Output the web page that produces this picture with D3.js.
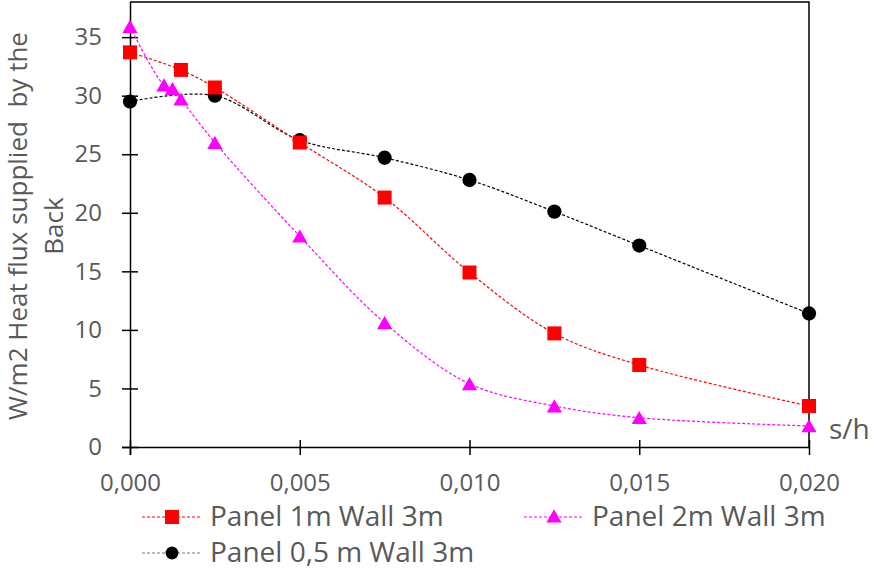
<!DOCTYPE html>
<html>
<head>
<meta charset="utf-8">
<script src="https://cdn.jsdelivr.net/npm/d3@7"></script>
<style>
  body { margin: 0; background: #fff; }
  text { font-family: "Open Sans", "Noto Sans", sans-serif; fill: #595959; }
</style>
</head>
<body>
<div id="chart"></div>
<script>
// s/h values and heat flux series
const xRed = [0, 0.0015, 0.0025, 0.005, 0.0075, 0.010, 0.0125, 0.015, 0.020];
const yRed = [33.7, 32.2, 30.7, 26.0, 21.3, 14.9, 9.7, 7.0, 3.5];

const xMag = [0, 0.001, 0.00125, 0.0015, 0.0025, 0.005, 0.0075, 0.010, 0.0125, 0.015, 0.020];
const yMag = [35.9, 30.9, 30.6, 29.7, 26.0, 18.0, 10.6, 5.4, 3.5, 2.5, 1.8];

const xBlk = [0, 0.0025, 0.005, 0.0075, 0.010, 0.0125, 0.015, 0.020];
const yBlk = [29.5, 30.0, 26.2, 24.7, 22.8, 20.1, 17.2, 11.4];

const xTicks = [0, 0.005, 0.010, 0.015, 0.020];
const yTicks = [0, 5, 10, 15, 20, 25, 30, 35];

const seriesNames = ["Panel 1m Wall 3m", "Panel 2m Wall 3m", "Panel 0,5 m Wall 3m"];

const width = 874, height = 573;
const plotL = 130, plotR = 809, plotT = 2, plotB = 447;

const svg = d3.select("#chart").append("svg")
  .attr("width", width)
  .attr("height", height);

const x = d3.scaleLinear().domain([0, 0.020]).range([plotL, plotR]);
const y = d3.scaleLinear().domain([0, 38]).range([plotB, plotT]);

const fmt = d => d3.format(".3f")(d).replace(".", ",");

// plot frame (top and right edges)
svg.append("path")
  .attr("d", `M${plotL},${plotT}H${plotR}V${plotB}`)
  .attr("fill", "none")
  .attr("stroke", "#000")
  .attr("stroke-width", 1.5);

// x axis
const xAxis = svg.append("g")
  .attr("transform", `translate(0,${plotB})`)
  .call(d3.axisBottom(x).tickValues(xTicks).tickFormat(fmt).tickSizeInner(8).tickSizeOuter(0).tickPadding(19));
xAxis.select(".domain").attr("d", `M${plotL - 8},0.5H${plotR}`).attr("stroke-width", 1.5);
xAxis.selectAll(".tick line").attr("y1", -7).attr("y2", 8).attr("stroke-width", 1.5);
xAxis.selectAll(".tick text").attr("font-size", 24).style("font-family", "Open Sans").attr("fill", "#595959");

// y axis
const yAxis = svg.append("g")
  .attr("transform", `translate(${plotL},0)`)
  .call(d3.axisLeft(y).tickValues(yTicks).tickSizeInner(8).tickSizeOuter(0).tickPadding(20));
yAxis.select(".domain").attr("d", `M0.5,${plotT}V${plotB + 8}`).attr("stroke-width", 1.5);
yAxis.selectAll(".tick line").attr("x1", -8).attr("x2", 8).attr("stroke-width", 1.5);
yAxis.selectAll(".tick text").attr("font-size", 24).style("font-family", "Open Sans").attr("fill", "#595959");

// axis titles
const yTitle = svg.append("text")
  .attr("transform", "translate(27,226) rotate(-90)")
  .attr("text-anchor", "middle")
  .style("white-space", "pre")
  .attr("font-size", 26);
yTitle.append("tspan").attr("x", 0).attr("dy", 0).text("W/m2 Heat flux supplied  by the");
yTitle.append("tspan").attr("x", 0).attr("dy", 36).text("Back");

svg.append("text")
  .attr("x", 829)
  .attr("y", 439)
  .attr("font-size", 28)
  .text("s/h");

// series
const series = [
  { xs: xRed, ys: yRed, color: "#ff0000", marker: "square", name: seriesNames[0] },
  { xs: xMag, ys: yMag, color: "#ff00ff", marker: "triangle", name: seriesNames[1] },
  { xs: xBlk, ys: yBlk, color: "#000000", marker: "circle", name: seriesNames[2] }
];

const symbolType = { square: d3.symbolSquare, triangle: d3.symbolTriangle, circle: d3.symbolCircle };
const symbolSize = { square: 196, triangle: 100, circle: 160 };

const line = d3.line()
  .x(d => x(d[0]))
  .y(d => y(d[1]))
  .curve(d3.curveCatmullRom.alpha(0.5));

// draw black first, then red, then magenta on top
[series[2], series[0], series[1]].forEach(s => {
  const pts = s.xs.map((v, i) => [v, s.ys[i]]);
  svg.append("path")
    .datum(pts)
    .attr("d", line)
    .attr("fill", "none")
    .attr("stroke", s.color)
    .attr("stroke-width", 1.2)
    .attr("stroke-dasharray", "3,2");
  svg.selectAll(null)
    .data(pts)
    .enter()
    .append("path")
    .attr("transform", d => `translate(${x(d[0])},${y(d[1]) + (s.marker === "triangle" ? 2 : 0)})`)
    .attr("d", d3.symbol().type(symbolType[s.marker]).size(symbolSize[s.marker]))
    .attr("fill", s.color);
});

// legend
const legendPos = [
  { lx: 142, ly: 517 },
  { lx: 524, ly: 517 },
  { lx: 142, ly: 553 }
];
series.forEach((s, i) => {
  const g = svg.append("g").attr("transform", `translate(${legendPos[i].lx},${legendPos[i].ly})`);
  g.append("line")
    .attr("x1", 0).attr("x2", 59)
    .attr("stroke", s.color === "#000000" ? "#777" : s.color)
    .attr("stroke-width", 1.2)
    .attr("stroke-dasharray", "3,2");
  g.append("path")
    .attr("transform", `translate(30,${s.marker === "triangle" ? 1 : 0})`)
    .attr("d", d3.symbol().type(symbolType[s.marker]).size(s.marker === "circle" ? 130 : symbolSize[s.marker]))
    .attr("fill", s.color);
  g.append("text")
    .attr("x", 68)
    .attr("y", 9)
    .attr("font-size", 28)
    .text(s.name);
});
</script>
</body>
</html>
